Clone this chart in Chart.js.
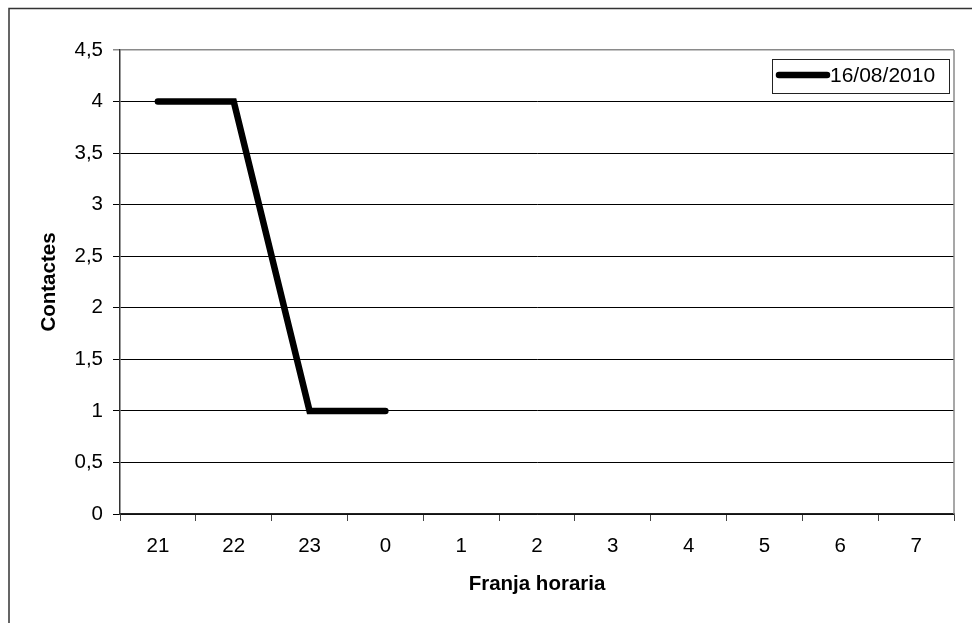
<!DOCTYPE html>
<html>
<head>
<meta charset="utf-8">
<script src="https://cdn.jsdelivr.net/npm/chart.js@4/dist/chart.umd.min.js"></script>
<style>
  html, body { margin: 0; padding: 0; background: #fff; }
  #wrap { width: 972px; height: 623px; position: relative; }
</style>
</head>
<body>
<div id="wrap"><canvas id="myChart" width="972" height="623"></canvas></div>
<script>
// Data
const hours = ['21', '22', '23', '0', '1', '2', '3', '4', '5', '6', '7'];
const contactes = [4, 4, 1, 1, null, null, null, null, null, null, null];
const seriesLabel = '16/08/2010';
const yTicks = [0, 0.5, 1, 1.5, 2, 2.5, 3, 3.5, 4, 4.5];

const FONT = 'Liberation Sans, Arial, sans-serif';

// Outer frame, grey right border of plot and the boxed legend
const extras = {
    id: 'extras',
    afterDraw(chart) {
        const ctx = chart.ctx;
        const a = chart.chartArea;
        ctx.save();
        // outer frame (only top/left visible)
        ctx.strokeStyle = '#333';
        ctx.lineWidth = 1.5;
        ctx.strokeRect(9, 8.5, 1000, 700);
        // right edge of plot area
        ctx.strokeStyle = '#8a8a8a';
        ctx.lineWidth = 1.5;
        ctx.beginPath();
        ctx.moveTo(a.right, a.top);
        ctx.lineTo(a.right, a.bottom);
        ctx.stroke();
        // legend box
        const ds = chart.data.datasets[0];
        ctx.fillStyle = '#fff';
        ctx.fillRect(772, 59, 177, 34);
        ctx.strokeStyle = '#222';
        ctx.lineWidth = 1;
        ctx.strokeRect(772.5, 59.5, 177, 34);
        ctx.strokeStyle = ds.borderColor;
        ctx.lineWidth = ds.borderWidth;
        ctx.lineCap = 'round';
        ctx.beginPath();
        ctx.moveTo(779, 75);
        ctx.lineTo(827, 75);
        ctx.stroke();
        ctx.fillStyle = '#000';
        ctx.font = '21px ' + FONT;
        ctx.textBaseline = 'middle';
        ctx.fillText(ds.label, 830, 76);
        ctx.restore();
    }
};

const ctx = document.getElementById('myChart').getContext('2d');
new Chart(ctx, {
    type: 'line',
    data: {
        labels: hours,
        datasets: [{
            label: seriesLabel,
            data: contactes,
            borderColor: '#000',
            backgroundColor: '#000',
            borderWidth: 6.5,
            borderCapStyle: 'round',
            borderJoinStyle: 'miter',
            pointRadius: 0,
            tension: 0,
            spanGaps: false
        }]
    },
    options: {
        responsive: false,
        animation: false,
        layout: { padding: { top: 50, right: 18, left: 0, bottom: 0 } },
        plugins: {
            legend: { display: false },
            tooltip: { enabled: false }
        },
        scales: {
            x: {
                offset: true,
                grid: {
                    offset: true,
                    drawOnChartArea: false,
                    drawTicks: true,
                    tickLength: 7,
                    color: '#444'
                },
                border: { color: '#222', width: 1.5 },
                ticks: {
                    color: '#000',
                    padding: 13,
                    maxRotation: 0,
                    autoSkip: false,
                    font: { family: FONT, size: 20.5 }
                },
                title: {
                    display: true,
                    text: 'Franja horaria',
                    color: '#000',
                    font: { family: FONT, size: 20.5, weight: 'bold' },
                    padding: { top: 0, bottom: 26 }
                },
                afterFit(scale) { scale.height = 109; }
            },
            y: {
                min: 0,
                max: 4.5,
                afterBuildTicks(scale) {
                    scale.ticks = yTicks.map(v => ({ value: v }));
                },
                grid: {
                    color: c => (c.tick && c.tick.value === 4.5) ? '#8a8a8a' : '#000',
                    lineWidth: c => (c.tick && c.tick.value === 4.5) ? 1.5 : 1,
                    tickLength: 7,
                    drawTicks: true
                },
                border: { color: '#333', width: 1.5 },
                ticks: {
                    color: '#000',
                    padding: 10,
                    font: { family: FONT, size: 20.5 },
                    callback: v => String(v).replace('.', ',')
                },
                title: {
                    display: true,
                    text: 'Contactes',
                    color: '#000',
                    font: { family: FONT, size: 20.5, weight: 'bold' },
                    padding: { top: 37, bottom: 0 }
                },
                afterFit(scale) { scale.width = 120; }
            }
        }
    },
    plugins: [extras]
});
</script>
</body>
</html>
